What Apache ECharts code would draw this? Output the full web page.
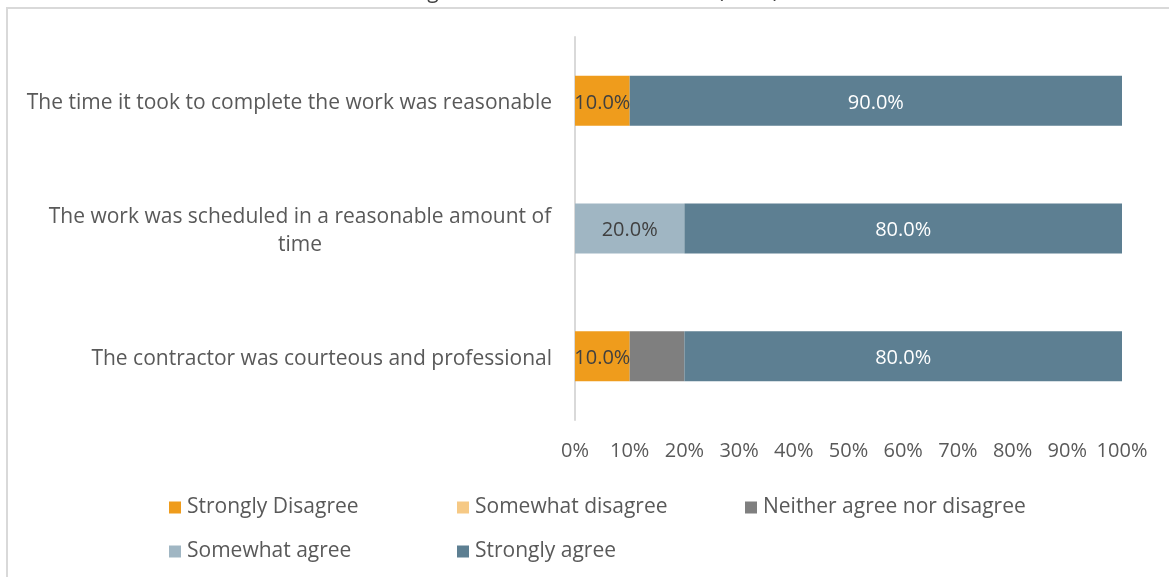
<!DOCTYPE html>
<html>
<head>
<meta charset="utf-8">
<script src="https://cdn.jsdelivr.net/npm/echarts@6/dist/echarts.min.js"></script>
<style>
  html, body { margin: 0; padding: 0; background: #fff; }
  #chart { width: 1169px; height: 577px; }
</style>
</head>
<body>
<div id="chart"></div>
<script>
// Survey statements, top to bottom
const categories = [
  'The time it took to complete the work was reasonable',
  'The work was scheduled in a reasonable amount of\ntime',
  'The contractor was courteous and professional'
];

// Response shares (%) per statement, same order as categories
const stronglyDisagree = [10, 0, 10];
const somewhatDisagree = [0, 0, 0];
const neitherAgree     = [0, 0, 10];
const somewhatAgree    = [0, 20, 0];
const stronglyAgree    = [90, 80, 80];

const seriesNames = ['Strongly Disagree', 'Somewhat disagree', 'Neither agree nor disagree', 'Somewhat agree', 'Strongly agree'];
const seriesValues = [stronglyDisagree, somewhatDisagree, neitherAgree, somewhatAgree, stronglyAgree];
const seriesColors = ['#EF9C1C', '#F6C985', '#7F7F7F', '#A0B6C3', '#5D7F92'];
const labelColors  = ['#404040', '#404040', null, '#404040', '#FFFFFF'];

const xTicks = [0, 10, 20, 30, 40, 50, 60, 70, 80, 90, 100];

const FONT = '"Open Sans", Lato, sans-serif';
const TEXT = '#595959';
const SIZE = 21;

const chart = echarts.init(document.getElementById('chart'));

// one legend per entry so they sit on a fixed two-row grid
const legendSlots = [[164, 492], [452, 492], [740, 492], [164, 536], [452, 536]];
const legends = seriesNames.map((name, i) => ({
  data: [name],
  left: legendSlots[i][0],
  top: legendSlots[i][1],
  icon: 'rect',
  itemWidth: 12,
  itemHeight: 12,
  selectedMode: false,
  textStyle: { fontFamily: FONT, fontSize: SIZE, color: TEXT, padding: [0, 0, 0, 1] }
}));

const option = {
  animation: false,
  textStyle: { fontFamily: FONT },
  graphic: [
    {
      type: 'rect',
      shape: { x: 7, y: 8, width: 1200, height: 620 },
      style: { fill: 'none', stroke: '#D9D9D9', lineWidth: 2 },
      z: 0
    },
    {
      type: 'text',
      x: 595,
      y: 3,
      style: {
        text: 'Figure 3. Contractor Work Rate (n=10)',
        fontFamily: FONT,
        fontSize: SIZE,
        fill: '#404040',
        textAlign: 'center',
        textVerticalAlign: 'bottom'
      },
      z: 10
    }
  ],
  legend: legends,
  grid: { left: 575, right: 47, top: 37, bottom: 157, containLabel: false },
  xAxis: {
    type: 'value',
    min: xTicks[0],
    max: xTicks[xTicks.length - 1],
    interval: xTicks[1] - xTicks[0],
    axisLine: { show: false },
    axisTick: { show: false },
    splitLine: { show: false },
    axisLabel: {
      formatter: '{value}%',
      fontFamily: FONT,
      fontSize: 20,
      color: TEXT,
      margin: 21
    }
  },
  yAxis: {
    type: 'category',
    inverse: true,
    data: categories,
    axisLine: { show: true, lineStyle: { color: '#D9D9D9', width: 2 } },
    axisTick: { show: false },
    splitLine: { show: false },
    axisLabel: {
      fontFamily: FONT,
      fontSize: SIZE,
      color: TEXT,
      margin: 23,
      lineHeight: 28,
      padding: [5, 0, 0, 0],
      formatter: function (v) {
        if (v.indexOf('\n') < 0) return v;
        return v.split('\n').map(l => '{c|' + l + '}').join('\n');
      },
      rich: {
        c: { width: 504, align: 'center', fontFamily: FONT, fontSize: SIZE, color: TEXT, lineHeight: 28 }
      }
    }
  },
  series: seriesNames.map((name, i) => ({
    name: name,
    type: 'bar',
    stack: 'total',
    barWidth: 50,
    data: seriesValues[i],
    itemStyle: { color: seriesColors[i] },
    label: {
      show: labelColors[i] !== null,
      position: 'inside',
      offset: [0, 2],
      fontFamily: FONT,
      fontSize: 20,
      color: labelColors[i] || '#404040',
      formatter: p => (p.value > 0 ? p.value.toFixed(1) + '%' : '')
    }
  }))
};

chart.setOption(option);
</script>
</body>
</html>
